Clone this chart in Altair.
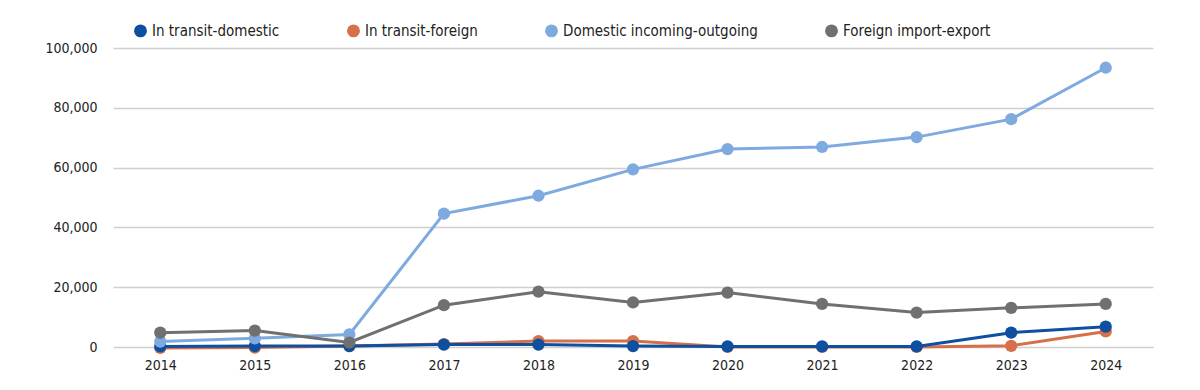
import altair as alt
import pandas as pd

years = [str(y) for y in range(2014, 2025)]
series_names = ["In transit-domestic", "In transit-foreign",
                "Domestic incoming-outgoing", "Foreign import-export"]
colors = ["#0F4FA0", "#D6704A", "#7FAADF", "#707070"]

in_transit_domestic = [200, 300, 300, 800, 800, 300, 200, 200, 200, 4800, 6800]
in_transit_foreign = [-300, -200, 300, 1000, 2000, 2000, 0, 0, 0, 400, 5200]
domestic_in_out = [1800, 2900, 4200, 44600, 50600, 59400, 66200, 66900, 70200, 76200, 93400]
foreign_imp_exp = [4800, 5500, 1500, 14000, 18500, 14900, 18200, 14400, 11500, 13100, 14400]

values = [in_transit_domestic, in_transit_foreign, domestic_in_out, foreign_imp_exp]
rows = []
for name, vals in zip(series_names, values):
    for y, v in zip(years, vals):
        rows.append({"year": y, "series": name, "value": v})
df = pd.DataFrame(rows)

FONT = "'DejaVu Sans Condensed', 'Liberation Sans Narrow', Roboto, sans-serif"

color_scale = alt.Scale(domain=series_names, range=colors)
x_enc = alt.X("year:N", title=None, sort=years,
              scale=alt.Scale(paddingInner=0, paddingOuter=0.5),
              axis=alt.Axis(labelAngle=0, ticks=False, domain=False, grid=False,
                            labelPadding=11, labelFontSize=14, labelColor="#222"))
y_enc = alt.Y("value:Q", title=None,
              scale=alt.Scale(domain=[0, 100000], nice=False),
              axis=alt.Axis(values=[0, 20000, 40000, 60000, 80000, 100000],
                            format=",.0f", ticks=False, domain=False,
                            labelPadding=16, labelFontSize=14, labelColor="#222",
                            gridColor="#cfcfcf", gridWidth=1.3))

draw_order = ["In transit-foreign", "In transit-domestic",
              "Domestic incoming-outgoing", "Foreign import-export"]
layers = []
for i, name in enumerate(draw_order):
    sub = df[df.series == name]
    base = alt.Chart(sub).encode(
        x=x_enc, y=y_enc,
        color=alt.Color("series:N", scale=color_scale, title=None,
                        legend=alt.Legend(orient="none", legendX=20, legendY=-25,
                                          direction="horizontal", symbolType="circle",
                                          symbolSize=130, labelFontSize=15,
                                          labelColor="#222", columnPadding=64,
                                          labelFont=FONT, labelLimit=400) if i == 0 else None)
    )
    layers.append(base.mark_line(strokeWidth=3))
    layers.append(base.mark_point(filled=True, size=150, opacity=1))

chart = alt.layer(*layers).properties(
    width=1040, height=299,
    autosize=alt.AutoSizeParams(type="none"),
    padding={"left": 105, "top": 40, "right": 39, "bottom": 35},
).configure(font=FONT).configure_view(stroke=None).configure_axis(labelFont=FONT)

chart.save("out.html", embed_options={"renderer": "svg", "actions": False})
